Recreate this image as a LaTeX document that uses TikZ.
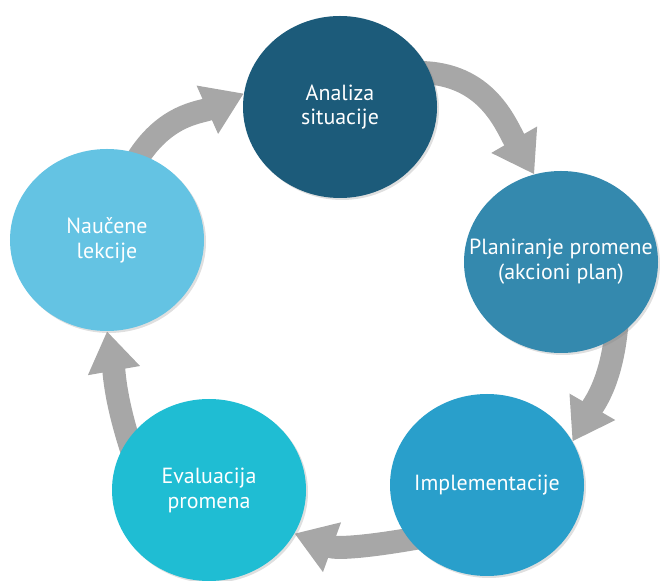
\documentclass[tikz,border=0pt]{standalone}
\usepackage{fontspec}
\setmainfont{PT Sans}
\usetikzlibrary{shapes.geometric,shadows,arrows.meta,backgrounds}

\definecolor{analizaC}{HTML}{1C5B7A}
\definecolor{planC}{HTML}{3489AE}
\definecolor{implC}{HTML}{299FCB}
\definecolor{evalC}{HTML}{1FBDD3}
\definecolor{lekcC}{HTML}{64C3E3}
\definecolor{cycgray}{HTML}{A7A7A7}

\begin{document}
\begin{tikzpicture}[x=1bp,y=1bp]

      \useasboundingbox (0,0) rectangle (660,581);

      \begin{scope}[every node/.style={ellipse,minimum width=194bp,minimum height=182bp,inner sep=0pt,
          drop shadow={shadow xshift=2bp,shadow yshift=-2bp,opacity=0.25}}]
        \node[fill=analizaC] (analiza)  at (340,474) {};
        \node[fill=planC]    (plan)     at (561,319) {};
        \node[fill=implC]    (impl)     at (487,96)  {};
        \node[fill=evalC]    (eval)     at (209,91)  {};
        \node[fill=lekcC]    (lekcije)  at (107,341) {};
      \end{scope}

      \begin{scope}[every node/.style={text=white,align=center,font=\fontsize{22}{25}\selectfont}]
        \node (analiza-t) at (analiza) {Analiza\\situacije};
        \node (plan-t)    at (plan)    {Planiranje promene\\(akcioni plan)};
        \node (impl-t)    at (impl)    {Implementacije};
        \node (eval-t)    at (eval)    {Evaluacija\\promena};
        \node (lekcije-t) at (lekcije) {Naučene\\lekcije};
      \end{scope}

      \begin{scope}[on background layer,
          every edge/.style={draw=cycgray,line width=23bp,shorten <=-12bp,
            -{Triangle[width=50bp,length=40bp]}}]
        \path (analiza.21)  edge[out=0,in=120]     (plan.107);
        \path (plan.-54)    edge[out=-95,in=60]    (impl.27);
        \path (impl.215)    edge[out=190,in=-20]   (eval.-27);
        \path (eval.148)    edge[out=108,in=-80]   (lekcije.-90);
        \path (lekcije.69)  edge[out=60,in=-156]   (analiza.172);
      \end{scope}

    \end{tikzpicture}
\end{document}
